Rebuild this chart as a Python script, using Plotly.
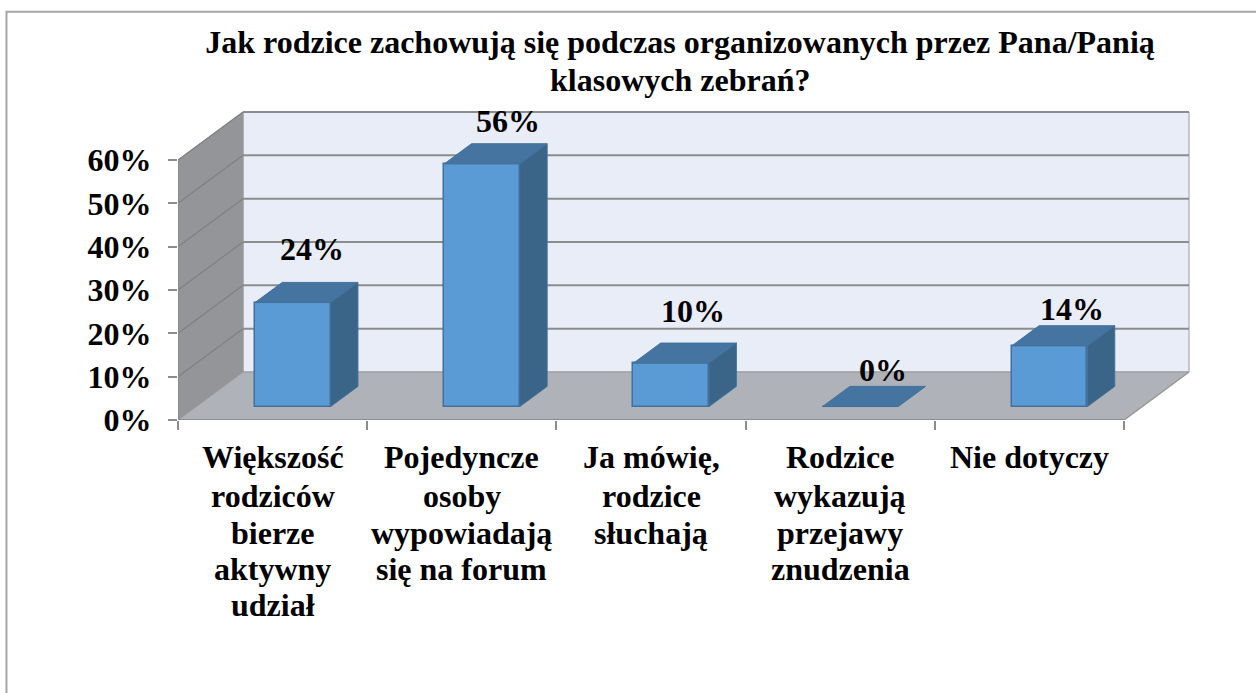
import plotly.graph_objects as go

TITLE_LINES = ["Jak rodzice zachowują się podczas organizowanych przez Pana/Panią",
               "klasowych zebrań?"]
CATEGORIES = [["Większość", "rodziców", "bierze", "aktywny", "udział"],
              ["Pojedyncze", "osoby", "wypowiadają", "się na forum"],
              ["Ja mówię,", "rodzice", "słuchają"],
              ["Rodzice", "wykazują", "przejawy", "znudzenia"],
              ["Nie dotyczy"]]
VALUES = [24, 56, 10, 0, 14]
Y_TICKS = [0, 10, 20, 30, 40, 50, 60]
LABEL_LIFT = [33, 23, 32, 16, 17]    # label clearance above each bar, px
LABEL_SHIFT = [-8, -1, -6, -5, -5]   # label sideways nudge, px
LINE_DROP = [37, 76, 113, 149, 185]  # category text lines below the axis, px

FONT = "Liberation Serif"
DX, DY = 0.3436, 11.08      # full chart depth, in axis units
D0, D1 = 0.28, 0.70         # bar depth span (fraction of the chart depth)
HALF = 0.2                  # half bar width
NUDGE = 0.0106              # bar offset from the category centre
XL, XR = -0.5, 4.5
YTOP = Y_TICKS[-1]


def proj(x, y, d=0.0):
    return x + d * DX, y + d * DY


def path(*pts):
    return "M" + " L".join(f"{x},{y}" for x, y in pts) + " Z"


def wall(pts, fill):
    return dict(type="path", path=path(*pts), fillcolor=fill, xref="x", yref="y",
                line=dict(color="#9A9A9A", width=1), layer="below")


def seg(a, b, color="#8C8C8C", width=2):
    return dict(type="line", x0=a[0], y0=a[1], x1=b[0], y1=b[1], xref="x", yref="y",
                line=dict(color=color, width=width), layer="below")


shapes = [
    wall([proj(XL, 0, 1), proj(XR, 0, 1), proj(XR, YTOP, 1), proj(XL, YTOP, 1)], "#E9EDF7"),
    wall([proj(XL, 0, 0), proj(XL, 0, 1), proj(XR, 0, 1), proj(XR, 0, 0)], "#B0B2B9"),
    wall([proj(XL, 0, 0), proj(XL, 0, 1), proj(XL, YTOP, 1), proj(XL, YTOP, 0)], "#939598"),
]
for t in Y_TICKS[1:]:
    shapes.append(seg(proj(XL, t, 1), proj(XR, t, 1)))
    shapes.append(seg(proj(XL, t, 0), proj(XL, t, 1), "#7E8082", 1.2))
shapes.append(seg(proj(XL, 0, 0), proj(XR, 0, 0)))
shapes.append(seg(proj(XL, 0, 0), proj(XL, YTOP, 0)))
shapes.append(seg(proj(XR, 0, 0), proj(XR, 0, 1), "#9A9A9A", 1.5))
# outer frame of the chart object (paper coordinates are relative to the plot area)
shapes.append(dict(type="path", xref="paper", yref="paper", layer="below",
                   path="M-0.1695,-0.9 L-0.1695,1.321 L1.07,1.321",
                   line=dict(color="#A6A6A6", width=2)))

fig = go.Figure()

bar_x = [i + NUDGE + D0 * DX for i in range(len(VALUES))]
fig.add_trace(go.Bar(x=bar_x, y=VALUES, base=D0 * DY, width=2 * HALF,
                     marker=dict(color="#5B9BD5", line=dict(color="#41719C", width=1.5)),
                     hoverinfo="skip", showlegend=False))


def poly(pts, fill):
    fig.add_trace(go.Scatter(x=[p[0] for p in pts] + [pts[0][0]],
                             y=[p[1] for p in pts] + [pts[0][1]],
                             mode="lines", fill="toself", fillcolor=fill,
                             line=dict(color="#41719C", width=1),
                             hoverinfo="skip", showlegend=False))


annotations = [dict(x=(680 - 178) / 1012, y=(420 - 80) / 309, xref="paper", yref="paper",
                    yanchor="middle", text=f"<b>{TITLE_LINES[1]}</b>", showarrow=False,
                    font=dict(family=FONT, size=32, color="#000000"))]

for i, v in enumerate(VALUES):
    l, r = i + NUDGE - HALF, i + NUDGE + HALF
    poly([proj(l, v, D0), proj(r, v, D0), proj(r, v, D1), proj(l, v, D1)], "#44749F")
    if v > 0:
        poly([proj(r, 0, D0), proj(r, 0, D1), proj(r, v, D1), proj(r, v, D0)], "#3A6488")
    ax, ay = proj(i + NUDGE, v, D1)
    annotations.append(dict(x=ax, y=ay, xref="x", yref="y", text=f"<b>{v}%</b>", showarrow=False,
                            xshift=LABEL_SHIFT[i], yshift=LABEL_LIFT[i],
                            font=dict(family=FONT, size=32, color="#000000")))

for i, lines in enumerate(CATEGORIES):
    for k, line in enumerate(lines):
        annotations.append(dict(x=i, y=0, xref="x", yref="y", text=f"<b>{line}</b>", showarrow=False,
                                yshift=-LINE_DROP[k], yanchor="middle",
                                font=dict(family=FONT, size=32, color="#000000")))

fig.update_layout(
    width=1256, height=693, autosize=False,
    margin=dict(l=178, r=66, t=111, b=273),
    paper_bgcolor="#FFFFFF", plot_bgcolor="rgba(0,0,0,0)",
    font=dict(family=FONT, color="#000000"),
    title=dict(text=f"<b>{TITLE_LINES[0]}</b>", x=680 / 1256, xanchor="center",
               y=1 - 42 / 693, yanchor="middle",
               font=dict(family=FONT, size=32, color="#000000")),
    showlegend=False, shapes=shapes, annotations=annotations, bargap=0,
    xaxis=dict(range=[XL, XL + 1012 / 189.2], tickmode="array",
               tickvals=list(range(len(CATEGORIES))), showticklabels=False,
               ticks="", showgrid=False, zeroline=False, showline=False,
               minor=dict(tickmode="array", tickvals=[i - 0.5 for i in range(len(CATEGORIES) + 1)],
                          ticks="outside", ticklen=9, tickcolor="#8C8C8C", tickwidth=1.5, showgrid=False)),
    yaxis=dict(range=[0, 309 / 4.333], tickmode="array", tickvals=Y_TICKS,
               ticktext=[f"<b>{t}%</b>" for t in Y_TICKS],
               ticks="outside", ticklen=9, tickcolor="#8C8C8C", tickwidth=1.5,
               ticklabelstandoff=10, showgrid=False, zeroline=False, showline=False,
               tickfont=dict(family=FONT, size=32, color="#000000")),
)

fig.write_html("out.html", config={"displayModeBar": False},
               post_script="document.body.style.margin='0';")
